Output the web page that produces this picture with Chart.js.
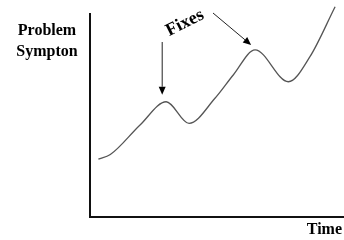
<!DOCTYPE html>
<html>
<head>
<meta charset="utf-8">
<script src="https://cdn.jsdelivr.net/npm/chart.js@4/dist/chart.umd.min.js"></script>
<style>
html,body{margin:0;padding:0;background:#fff;}
#wrap{width:344px;height:240px;}
</style>
</head>
<body>
<div id="wrap"><canvas id="c" width="344" height="240"></canvas></div>
<script>
// Data (time units 0-100, symptom units 0-100)
const timeValues = [3.3, 8.0, 19.7, 30.0, 39.0, 49.2, 56.4, 65.0, 78.1, 86.6, 96.5];
const symptomValues = [28.4, 30.6, 45.1, 56.5, 45.9, 58.2, 69.6, 81.9, 66.3, 78.6, 103.1];
const fixIndices = [3, 7]; // the two "fix" peaks
const yTitleLines = ["Problem", "Sympton"];
const xTitle = "Time";
const annotationText = "Fixes";

const points = timeValues.map((t, i) => ({x: t, y: symptomValues[i]}));

const decor = {
  id: 'decor',
  afterDraw(chart) {
    const ctx = chart.ctx;
    const xs = chart.scales.x, ys = chart.scales.y;
    const x0 = xs.getPixelForValue(xs.min), x1 = xs.getPixelForValue(xs.max);
    const y0 = ys.getPixelForValue(ys.min), y1 = ys.getPixelForValue(ys.max);
    ctx.save();
    // axes
    ctx.strokeStyle = '#111';
    ctx.lineWidth = 2;
    ctx.beginPath();
    ctx.moveTo(x0, y1);
    ctx.lineTo(x0, y0);
    ctx.lineTo(x1, y0);
    ctx.stroke();
    // titles
    ctx.fillStyle = '#000';
    ctx.font = 'bold 16px "Liberation Serif", "Times New Roman", serif';
    ctx.textAlign = 'center';
    ctx.textBaseline = 'alphabetic';
    ctx.fillText(yTitleLines[0], x0 - 43, y1 + 22);
    ctx.fillText(yTitleLines[1], x0 - 43, y1 + 43);
    ctx.textAlign = 'right';
    ctx.fillText(xTitle, chart.width - 2, y0 + 17);
    // Fixes label
    ctx.save();
    ctx.translate(185, 23);
    ctx.rotate(-27 * Math.PI / 180);
    ctx.textAlign = 'center';
    ctx.textBaseline = 'middle';
    ctx.font = 'bold 18px "Liberation Serif", "Times New Roman", serif';
    ctx.fillText(annotationText, 0, 0);
    ctx.restore();
    // arrows to the fix peaks
    const meta = chart.getDatasetMeta(0);
    const p1 = meta.data[fixIndices[0]], p2 = meta.data[fixIndices[1]];
    const arrows = [
      {sx: p1.x - 4, sy: 42, ex: p1.x - 4, ey: p1.y - 7},
      {sx: 213, sy: 13, ex: p2.x - 4, ey: p2.y - 5}
    ];
    ctx.strokeStyle = '#222';
    ctx.fillStyle = '#000';
    ctx.lineWidth = 1;
    arrows.forEach(a => {
      const ang = Math.atan2(a.ey - a.sy, a.ex - a.sx);
      const L = 8, W = 3.5;
      const bx = a.ex - L * Math.cos(ang), by = a.ey - L * Math.sin(ang);
      ctx.beginPath();
      ctx.moveTo(a.sx, a.sy);
      ctx.lineTo(bx, by);
      ctx.stroke();
      ctx.beginPath();
      ctx.moveTo(a.ex, a.ey);
      ctx.lineTo(bx + W * Math.sin(ang), by - W * Math.cos(ang));
      ctx.lineTo(bx - W * Math.sin(ang), by + W * Math.cos(ang));
      ctx.closePath();
      ctx.fill();
    });
    ctx.restore();
  }
};

new Chart(document.getElementById('c'), {
  type: 'line',
  data: {
    datasets: [{
      data: points,
      borderColor: '#555',
      borderWidth: 1.3,
      pointRadius: 0,
      cubicInterpolationMode: 'monotone',
      fill: false,
      clip: false
    }]
  },
  options: {
    responsive: false,
    animation: false,
    layout: {padding: {left: 90, top: 13, right: 0, bottom: 23}},
    plugins: {legend: {display: false}, tooltip: {enabled: false}},
    scales: {
      x: {type: 'linear', min: 0, max: 100, display: false},
      y: {type: 'linear', min: 0, max: 100, display: false}
    }
  },
  plugins: [decor]
});
</script>
</body>
</html>
